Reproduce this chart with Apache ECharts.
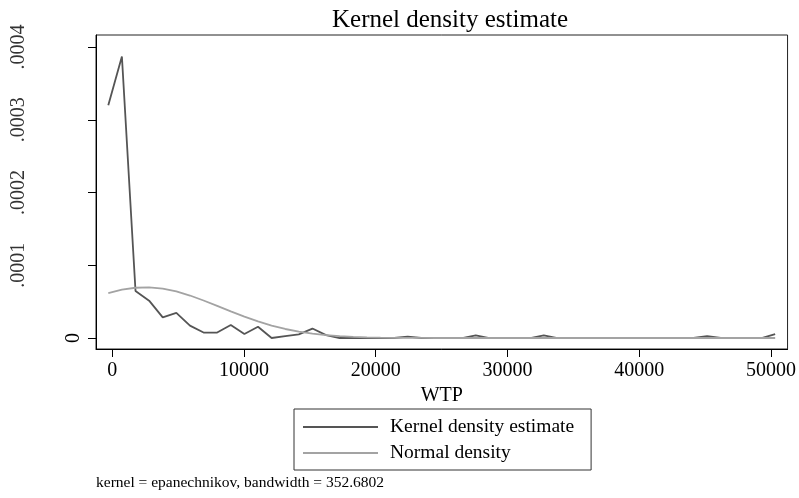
<!DOCTYPE html>
<html>
<head>
<meta charset="utf-8">
<script src="https://cdn.jsdelivr.net/npm/echarts@6/dist/echarts.min.js"></script>
<style>
  html, body { margin: 0; padding: 0; background: #fff; }
  #charts { width: 799px; height: 498px; }
</style>
</head>
<body>
<div id="charts"></div>
<script>
// evaluation points of the density (WTP)
const wtpGrid = [-300, 733, 1766, 2799, 3832, 4865, 5898, 6931, 7964, 8997,
  10030, 11063, 12096, 13129, 14162, 15195, 16228, 17261, 18294, 19327,
  20360, 21393, 22426, 23459, 24492, 25525, 26558, 27591, 28624, 29657,
  30690, 31723, 32756, 33789, 34822, 35855, 36888, 37921, 38954, 39987,
  41020, 42053, 43086, 44119, 45152, 46185, 47218, 48251, 49284, 50317]

// kernel density estimate
const kernelDensity = [0.000320, 0.000387, 0.0000646, 0.0000513, 0.0000284, 0.0000345, 0.0000170, 0.0000075, 0.0000075, 0.0000179,
  0.0000055, 0.0000155, 0, 0.0000025, 0.0000050, 0.0000130, 0.0000040, 0, 0, 0,
  0, 0, 0.0000018, 0, 0, 0, 0, 0.0000036, 0, 0,
  0, 0, 0.0000036, 0, 0, 0, 0, 0, 0, 0,
  0, 0, 0, 0, 0.0000025, 0, 0, 0, 0, 0.0000055]

// normal density
const normalDensity = [0.0000618, 0.0000665, 0.0000691, 0.0000696, 0.0000678, 0.0000640, 0.0000584, 0.0000516, 0.0000442, 0.0000366,
  0.0000293, 0.0000228, 0.0000171, 0.0000124, 0.0000088, 0.0000060, 0.0000039, 0.0000025, 0.0000016, 0.0000009,
  0.0000005, 0.0000003, 0.0000002, 0.0000001, 0, 0, 0, 0, 0, 0,
  0, 0, 0, 0, 0, 0, 0, 0, 0, 0,
  0, 0, 0, 0, 0, 0, 0, 0, 0, 0]

const xTicks = [0, 10000, 20000, 30000, 40000, 50000]
const yTicks = [0, 0.0001, 0.0002, 0.0003, 0.0004]
const yTickLabels = ['0', '.0001', '.0002', '.0003', '.0004']

const serif = '"Liberation Serif", "DejaVu Serif", serif'

function yLabel(v) {
  let best = 0
  for (let i = 0; i < yTicks.length; i++) {
    if (Math.abs(yTicks[i] - v) < Math.abs(yTicks[best] - v)) best = i
  }
  return yTickLabels[best]
}

let myChart = echarts.init(document.getElementById('charts'), null, { renderer: 'canvas' })

let option = {
  animation: false,
  backgroundColor: '#fff',
  grid: {
    left: 96,
    top: 35,
    width: 694,
    height: 314,
    show: true,
    borderColor: '#222',
    borderWidth: 1
  },
  legend: {
    orient: 'vertical',
    left: 294,
    top: 409,
    padding: [8, 17, 7, 9],
    itemGap: 6,
    itemWidth: 75,
    itemHeight: 2,
    icon: 'rect',
    borderColor: '#333',
    borderWidth: 1,
    textStyle: { fontFamily: serif, fontSize: 19.5, lineHeight: 18, color: '#000', padding: [0, 0, 0, 7] },
    data: ['Kernel density estimate', 'Normal density']
  },
  xAxis: {
    type: 'value',
    min: -1233,
    max: 51257,
    name: 'WTP',
    nameLocation: 'middle',
    nameGap: 32,
    nameTextStyle: { fontFamily: serif, fontSize: 20, color: '#000' },
    axisLine: { show: true, onZero: false, lineStyle: { color: '#000', width: 1 } },
    axisTick: { show: true, length: 8, customValues: xTicks, lineStyle: { color: '#000' } },
    axisLabel: { customValues: xTicks, margin: 12, fontFamily: serif, fontSize: 20, color: '#000', formatter: (v) => String(v) },
    splitLine: { show: false }
  },
  yAxis: [
    {
      type: 'value',
      min: -0.0000151,
      max: 0.0004165,
      axisLine: { show: true, onZero: false, lineStyle: { color: '#000', width: 1 } },
      axisTick: { show: true, length: 8, customValues: yTicks, lineStyle: { color: '#000' } },
      axisLabel: { customValues: [0], rotate: 90, margin: 12, fontFamily: serif, fontSize: 20, color: '#000', formatter: yLabel },
      splitLine: { show: false }
    },
    {
      type: 'value',
      position: 'left',
      min: -0.0000151,
      max: 0.0004165,
      axisLine: { show: false, onZero: false },
      axisTick: { show: false },
      axisLabel: { customValues: yTicks.slice(1), rotate: 90, margin: 67, fontFamily: serif, fontSize: 20, color: '#333', formatter: yLabel },
      splitLine: { show: false }
    }
  ],
  graphic: [
    {
      type: 'text',
      style: { x: 450, y: 20, text: 'Kernel density estimate', font: '25px ' + serif, fill: '#000', textAlign: 'center', textVerticalAlign: 'middle' }
    },
    {
      type: 'text',
      style: { x: 96, y: 483, text: 'kernel = epanechnikov, bandwidth = 352.6802', font: '15.5px ' + serif, fill: '#000', textAlign: 'left', textVerticalAlign: 'middle' }
    }
  ],
  series: [
    {
      name: 'Kernel density estimate',
      type: 'line',
      symbol: 'none',
      showSymbol: false,
      color: '#555',
      lineStyle: { color: '#555', width: 1.8 },
      data: wtpGrid.map((x, i) => [x, kernelDensity[i]])
    },
    {
      name: 'Normal density',
      type: 'line',
      symbol: 'none',
      showSymbol: false,
      color: '#a3a3a3',
      lineStyle: { color: '#a3a3a3', width: 1.8 },
      data: wtpGrid.map((x, i) => [x, normalDensity[i]])
    }
  ]
}

myChart.setOption(option)
</script>
</body>
</html>
